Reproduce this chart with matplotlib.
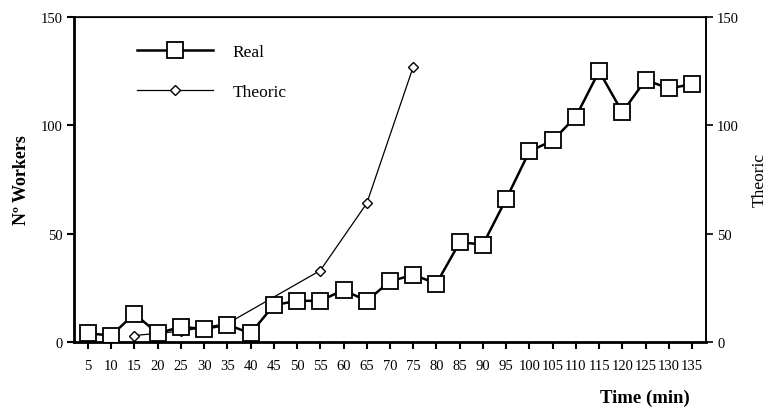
import matplotlib
matplotlib.use("Agg")
import matplotlib.pyplot as plt

plt.rcParams['font.family'] = ['Liberation Serif', 'DejaVu Serif']

time_real = [5, 10, 15, 20, 25, 30, 35, 40, 45, 50, 55, 60, 65, 70,
             75, 80, 85, 90, 95, 100, 105, 110, 115, 120, 125, 130, 135]
workers_real = [4, 3, 13, 4, 7, 6, 8, 4, 17, 19, 19, 24, 19, 28,
                31, 27, 46, 45, 66, 88, 93, 104, 125, 106, 121, 117, 119]

time_theoric = [15, 25, 35, 55, 65, 75]
workers_theoric = [3, 5, 8.5, 33, 64, 127]

xticks = list(range(5, 140, 5))
yticks = [0, 50, 100, 150]

fig = plt.figure(figsize=(7.74, 4.10), dpi=100)
ax = fig.add_axes([74/774, 1-343/410, (706-74)/774, (343-18)/410])

ax.plot(time_real, workers_real, color='black', lw=1.8, marker='s',
        markersize=11, markerfacecolor='white', markeredgecolor='black',
        markeredgewidth=1.3, label='Real', zorder=3)
ax.plot(time_theoric, workers_theoric, color='black', lw=0.9, marker='D',
        markersize=5.5, markerfacecolor='white', markeredgecolor='black',
        markeredgewidth=1.0, label='Theoric', zorder=2)

ax.set_xlim(2, 138)
ax.set_ylim(0, 150)
ax.set_xticks(xticks)
ax.set_xticklabels([str(t) for t in xticks], fontsize=10.5)
ax.set_yticks(yticks)
ax.set_yticklabels([str(t) for t in yticks], fontsize=10.5)

for s in ['left', 'bottom']:
    ax.spines[s].set_linewidth(2.0)
for s in ['top', 'right']:
    ax.spines[s].set_linewidth(1.2)

ax.tick_params(axis='x', direction='out', length=5, width=1.5, pad=7)
ax.tick_params(axis='y', direction='out', length=5, width=1.5, pad=3)

ax2 = ax.twinx()
ax2.set_ylim(0, 150)
ax2.set_yticks(yticks)
ax2.set_yticklabels([str(t) for t in yticks], fontsize=10.5)
ax2.tick_params(axis='y', direction='out', length=5, width=1.2, pad=3)
ax2.spines['right'].set_linewidth(1.2)
ax2.set_ylabel('Theoric', fontsize=12.5, labelpad=9)

ax.set_ylabel('Nº Workers', fontsize=13, fontweight='bold', labelpad=8)
ax.set_xlabel('Time (min)', fontsize=13.5, fontweight='bold')
ax.xaxis.label.set_va('center')
ax.xaxis.set_label_coords((645-74)/(706-74), -(398-343)/325)

leg = ax.legend(loc='upper left', bbox_to_anchor=(0.075, 0.965), frameon=False,
                handlelength=4.4, labelspacing=1.35, handletextpad=1.1,
                fontsize=12.5)

fig.savefig('out.png', dpi=100)
